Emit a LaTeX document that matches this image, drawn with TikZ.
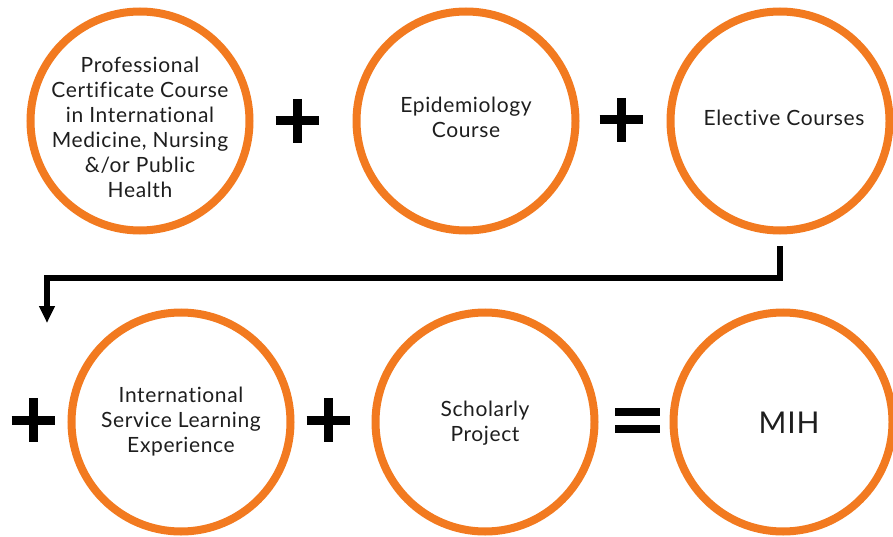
\documentclass[tikz,border=0pt]{standalone}
\usepackage{fontspec}
\setmainfont{Lato}[LetterSpace=3,Ligatures=NoCommon]
\usetikzlibrary{arrows.meta}
\definecolor{mihorange}{RGB}{242,122,32}
\definecolor{txtgray}{RGB}{30,30,30}
\begin{document}
\begin{tikzpicture}[x=1pt,y=-1pt,
  ring/.style={circle,draw=mihorange,line width=8pt,minimum size=219pt,inner sep=0pt},
  txt/.style={align=center,font=\fontsize{21}{25}\selectfont,text=txtgray,inner sep=0pt},
  opbar/.style={line width=9pt,draw=black},
  flow/.style={line width=6.5pt,draw=black,line join=miter,-{Triangle[length=17pt,width=15pt]}}]
\useasboundingbox[fill=white] (0,0) rectangle (893,537);
% circles
\node[ring] (c1) at (140,121) {};
\node[ring] (c2) at (466,121) {};
\node[ring] (c3) at (780,121) {};
\node[ring] (c4) at (181,422) {};
\node[ring] (c5) at (485,422) {};
\node[ring] (c6) at (783,422) {};
% texts
\node[txt] (t1) at (140,127) {Professional\\Certificate Course\\in International\\Medicine, Nursing\\\&/or Public\\Health};
\node[txt] (t2) at (466,117) {Epidemiology\\Course};
\node[txt] (t3) at (784,118) {Elective Courses};
\node[txt] (t4) at (181,422) {International\\Service Learning\\Experience};
\node[txt] (t5) at (485,423) {Scholarly\\Project};
\node[txt,font=\fontsize{30}{35}\selectfont] (t6) at (789,423) {MIH};
% plus signs
\foreach \px/\py in {297/121, 621/120, 33/420, 328/420}{
  \draw[opbar] (\px-21.5,\py) -- (\px+21.5,\py);
  \draw[opbar] (\px,\py-22) -- (\px,\py+22);
}
% equals sign
\draw[line width=8pt] (615,412) -- (660,412);
\draw[line width=8pt] (615,429) -- (660,429);
% connector
\coordinate (cs) at (780,246);
\coordinate (ce) at (47,323);
\draw[flow] (cs) -- ++(0,32) -| (ce);
\end{tikzpicture}
\end{document}
